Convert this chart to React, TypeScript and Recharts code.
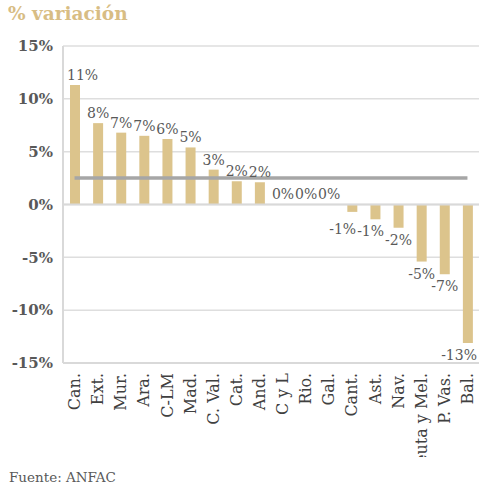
import {
  ComposedChart,
  Bar,
  Line,
  XAxis,
  YAxis,
  CartesianGrid,
  ReferenceLine,
  LabelList,
} from "recharts";

const categories = [
  "Can.", "Ext.", "Mur.", "Ara.", "C-LM", "Mad.", "C. Val.", "Cat.", "And.",
  "C y L", "Rio.", "Gal.", "Cant.", "Ast.", "Nav.", "Ceuta y Mel.", "P. Vas.", "Bal.",
];
const variation = [
  11.3, 7.7, 6.8, 6.5, 6.2, 5.4, 3.3, 2.2, 2.1,
  0.02, 0.02, 0.02, -0.7, -1.4, -2.2, -5.4, -6.6, -13.1,
];
const media = [
  2.5, 2.5, 2.5, 2.5, 2.5, 2.5, 2.5, 2.5, 2.5,
  2.5, 2.5, 2.5, 2.5, 2.5, 2.5, 2.5, 2.5, 2.5,
];
const yTicks = [-15, -10, -5, 0, 5, 10, 15];

const chartData = categories.map((c, i) => ({
  name: c,
  value: variation[i],
  media: media[i],
}));

const SERIF = "'DejaVu Serif', serif";
const LABEL_SIZE = 14;
const PLOT_LEFT = 63;
const PLOT_RIGHT = 479;
const PLOT_TOP = 46;
const PLOT_BOTTOM = 363;

const labelText = (v: number) => `${Math.round(v)}%`;
const textWidth = (s: string) =>
  s.split("").reduce((w, ch) => w + (ch === "%" ? 0.95 : ch === "-" ? 0.338 : 0.636), 0) * LABEL_SIZE;

// left shifts for negative labels so neighbours at the same height do not collide
const band = (PLOT_RIGHT - PLOT_LEFT) / categories.length;
const pxPerUnit = (PLOT_BOTTOM - PLOT_TOP) / 30;
const negShift: number[] = variation.map(() => 0);
{
  const baseY = (v: number) => Math.max(-v * pxPerUnit + 17, 29);
  for (let i = variation.length - 2; i >= 0; i--) {
    const v = variation[i];
    const n = variation[i + 1];
    if (v >= 0 || n >= 0) continue;
    if (Math.abs(baseY(v) - baseY(n)) >= 12) continue;
    const nextLeft = band + negShift[i + 1] - textWidth(labelText(n)) / 2;
    const myRight = negShift[i] + textWidth(labelText(v)) / 2;
    if (myRight > nextLeft - 1) negShift[i] = nextLeft - 1 - textWidth(labelText(v)) / 2;
  }
}

function BarValueLabel(props: any) {
  const { x, y, width, height, value, index } = props;
  const v = Number(value);
  const text = labelText(v);
  const cx = x + width / 2;
  const top = Math.min(y, y + height);
  const bottom = Math.max(y, y + height);
  const ty = v < 0 ? Math.max(bottom + 17, 234) : top - 5;
  const w = textWidth(text);
  let anchor: "middle" | "start" | "end" = "middle";
  let tx = cx + (v < 0 ? negShift[index] : 0);
  if (tx - w / 2 < PLOT_LEFT + 2) {
    anchor = "start";
    tx = PLOT_LEFT + 4;
  } else if (tx + w / 2 > PLOT_RIGHT - 1) {
    anchor = "end";
    tx = PLOT_RIGHT - 2;
  }
  return (
    <text x={tx} y={ty} textAnchor={anchor} fill="#595959" fontSize={LABEL_SIZE} fontFamily={SERIF}>
      {text}
    </text>
  );
}

function CategoryTick(props: any) {
  const { x, y, payload } = props;
  const ty = y + 2;
  return (
    <text
      x={x}
      y={ty}
      transform={`rotate(-90, ${x}, ${ty})`}
      textAnchor="end"
      dy="0.35em"
      fill="#404040"
      fontSize={16}
      fontFamily={SERIF}
    >
      {payload.value}
    </text>
  );
}

export default function App() {
  return (
    <div style={{ position: "absolute", left: 0, top: 0, width: 479, height: 485, background: "#fff", overflow: "hidden" }}>
      <div
        style={{
          position: "absolute",
          left: 8,
          top: 2,
          fontFamily: SERIF,
          fontWeight: "bold",
          fontSize: 18.5,
          lineHeight: "24px",
          color: "#d8bd84",
        }}
      >
        % variación
      </div>
      <div style={{ position: "absolute", left: 0, top: 0, width: 479, height: 457, overflow: "hidden" }}>
        <ComposedChart
          width={479}
          height={457}
          data={chartData}
          margin={{ top: PLOT_TOP, right: 0, left: 0, bottom: 0 }}
          barSize={10}
        >
          <CartesianGrid vertical={false} stroke="#dedede" strokeWidth={1.5} />
          <XAxis
            dataKey="name"
            interval={0}
            axisLine={false}
            tickLine={false}
            height={94}
            tick={<CategoryTick />}
          />
          <YAxis
            width={63}
            domain={[-15, 15]}
            ticks={yTicks}
            interval={0}
            tickLine={false}
            axisLine={{ stroke: "#d9d9d9", strokeWidth: 2 }}
            tickMargin={4}
            tickFormatter={(v: number) => `${v}%`}
            tick={{ fill: "#595959", fontSize: 15, fontWeight: "bold", fontFamily: SERIF }}
          />
          <ReferenceLine y={0} stroke="#d9d9d9" strokeWidth={2} />
          <ReferenceLine y={-15} stroke="#d9d9d9" strokeWidth={2} />
          <Bar dataKey="value" fill="#dcc48c" isAnimationActive={false}>
            <LabelList dataKey="value" content={<BarValueLabel />} />
          </Bar>
          <Line
            dataKey="media"
            stroke="#a6a6a6"
            strokeWidth={3.5}
            dot={false}
            activeDot={false}
            isAnimationActive={false}
          />
        </ComposedChart>
      </div>
      <div
        style={{
          position: "absolute",
          left: 9,
          top: 468,
          fontFamily: SERIF,
          fontSize: 13.5,
          lineHeight: "18px",
          color: "#595959",
        }}
      >
        Fuente: ANFAC
      </div>
    </div>
  );
}
